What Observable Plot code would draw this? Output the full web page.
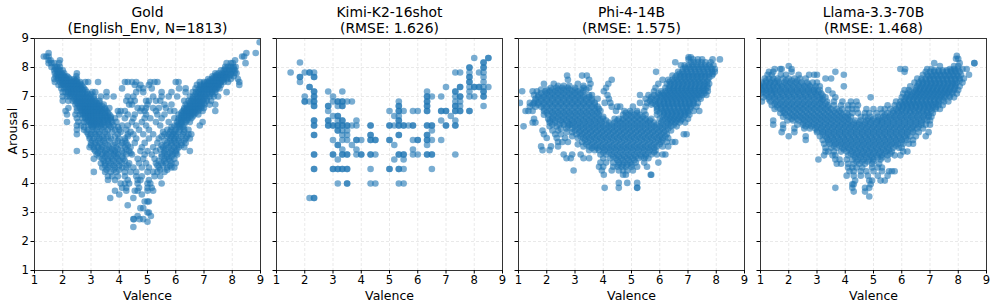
<!DOCTYPE html>
<html><head><meta charset="utf-8">
<script src="https://cdn.jsdelivr.net/npm/d3@7"></script>
<script src="https://cdn.jsdelivr.net/npm/@observablehq/plot@0.6"></script>
<style>html,body{margin:0;background:#fff}#c{position:relative;width:996px;height:308px;overflow:hidden}#c svg{position:absolute;top:0;background:transparent}</style>
</head><body><div id="c"></div>
<script>
const titles=["Gold\n(English_Env, N=1813)","Kimi-K2-16shot\n(RMSE: 1.626)","Phi-4-14B\n(RMSE: 1.575)","Llama-3.3-70B\n(RMSE: 1.468)"];
const ticks=[1,2,3,4,5,6,7,8,9];
const panelLefts=[34.3,276.3,518,760.3];
// rows: [arousal, [valences]]
const goldRows=[[8.87,[8.97]],[8.5,[1.5,8.5,8.83]],[8.38,[1.33,1.42,1.5,8.35,8.42]],[8.25,[1.5,1.57,1.9,8.1]],[8.15,[1.5,1.6,1.7,1.87,7.8,7.95,8.02,8.47]],[8.02,[1.6,1.72,1.8,1.9,7.75,7.85,7.95,8.05,8.12]],[7.9,[1.7,1.8,1.9,2,7.6,7.7,7.8,7.9,8,8.1]],[7.8,[1.72,1.85,1.95,2.05,2.5,7.4,7.52,7.65,7.75,7.85,7.95,8.08,8.15]],[7.7,[1.75,1.85,1.95,2.05,2.15,2.48,7.3,7.42,7.55,7.65,7.75,7.9,8.05]],[7.6,[1.7,1.82,1.93,2.03,2.13,2.25,2.4,2.5,7.15,7.28,7.4,7.5,7.6,7.7,7.82,7.95,8.2]],[7.5,[1.72,1.9,2,2.1,2.2,2.3,2.4,2.5,2.62,2.8,2.9,3.25,4.2,4.3,4.45,4.6,5.1,5.25,5.35,6,6.1,6.85,7,7.1,7.2,7.3,7.4,7.5,7.6,7.7,7.85,8.25]],[7.4,[1.85,1.95,2.05,2.15,2.25,2.35,2.45,2.55,2.65,4.55,4.75,5.05,6.75,6.87,7,7.1,7.2,7.3,7.4,7.5,7.6,8.25]],[7.28,[1.95,2.05,2.15,2.25,2.35,2.45,2.55,2.65,2.75,4.1,4.7,4.85,5.15,6.12,6.35,6.7,6.85,6.95,7.05,7.15,7.25,7.35,7.45,7.55]],[7.15,[2,2.1,2.2,2.3,2.4,2.5,2.6,2.72,2.85,3.05,3.15,3.55,4.6,4.85,5.5,5.85,6.35,6.6,6.72,6.82,6.92,7.02,7.15,7.28,7.4,7.8]],[7,[2,2.15,2.25,2.35,2.45,2.55,2.65,2.75,2.85,2.95,3.1,3.35,3.55,3.8,4.3,4.5,5.2,5.5,5.75,6.05,6.5,6.62,6.75,6.85,6.95,7.05,7.2,7.35,7.5]],[6.85,[2,2.2,2.35,2.45,2.55,2.65,2.75,2.85,2.95,3.05,3.15,3.3,4.25,4.4,4.55,4.95,5.05,5.3,5.45,6.3,6.45,6.55,6.65,6.75,6.85,6.95,7.1,7.25]],[6.72,[2.45,2.55,2.65,2.75,2.85,2.95,3.05,3.15,3.25,3.45,4.35,4.45,5,5.6,5.85,6.35,6.5,6.6,6.72,6.82,6.92,7.02,7.2,7.4]],[6.6,[2.2,2.5,2.6,2.7,2.8,2.9,3,3.1,3.2,3.3,3.5,3.65,4.65,4.8,4.95,5.2,5.4,5.65,6.3,6.4,6.5,6.6,6.7,6.8,6.9,7]],[6.5,[2.1,2.5,2.65,2.75,2.85,2.95,3.05,3.15,3.25,3.35,3.55,3.95,4.05,4.2,4.75,4.9,5.3,5.8,5.95,6.25,6.35,6.45,6.55,6.65,6.8,6.95,7.4]],[6.38,[2.15,2.45,2.6,2.7,2.8,2.9,3,3.1,3.2,3.35,3.5,3.65,4,4.3,4.55,4.95,5.35,5.6,6.1,6.22,6.35,6.45,6.55,6.65,6.8]],[6.25,[2.5,2.7,2.8,2.9,3,3.1,3.2,3.3,3.42,3.55,3.7,3.85,4.2,4.5,4.9,5.1,5.5,5.95,6.1,6.2,6.3,6.42,6.55]],[6.12,[2.15,2.55,2.75,2.85,2.95,3.05,3.15,3.3,3.45,3.6,3.75,3.9,4.45,4.8,5.3,5.75,6.05,6.2,6.35,6.5,6.95]],[6,[2.5,2.65,2.9,3,3.1,3.2,3.35,3.5,3.65,3.8,4.1,4.3,4.6,4.95,5.45,5.95,6.05,6.15,6.3,6.85]],[5.85,[2.5,2.75,2.9,3.05,3.2,3.4,3.6,3.85,4,4.25,4.7,5.05,5.7,5.85,6,6.15,6.3,6.45]],[5.7,[2.5,2.9,3,3.15,3.3,3.55,3.95,4.3,4.5,4.85,5.2,5.6,5.75,5.9,6,6.25,6.45,6.55]],[5.55,[2.95,3.1,3.3,3.45,3.7,4,4.2,4.6,5.05,5.4,5.8,5.95,6.1,6.35,6.5]],[5.4,[3,3.15,3.3,3.5,3.85,4.1,4.25,4.55,4.9,5.35,5.7,5.85,6,6.2,6.35]],[5.25,[2.95,3.1,3.25,3.4,3.65,3.9,4.2,4.4,4.8,5.2,5.55,5.75,5.95,6.1,6.3]],[5.12,[2.5,3.15,3.3,3.5,3.7,3.85,4.1,4.35,4.75,5,5.3,5.6,5.85,6,6.5]],[5,[3.2,3.4,3.55,3.8,3.95,4.25,4.45,4.9,5.15,5.5,5.7,5.9,6.05]],[4.85,[3.1,3.4,3.6,3.75,3.95,4.15,4.65,4.85,5.25,5.6,5.75,5.95]],[4.7,[3.35,3.5,3.7,3.9,4.1,4.35,4.7,4.95,5.3,5.5,5.65,5.85,6]],[4.55,[3.4,3.6,3.85,4.1,4.25,4.5,4.8,5.05,5.4,5.7,5.85,5.95]],[4.4,[3.1,3.5,3.7,3.9,4.2,4.4,4.6,5,5.2,5.35,5.6]],[4.25,[3.6,3.75,3.95,4.2,4.6,4.8,5.25,5.45]],[4.12,[3.6,3.85,4.3,4.65,4.75,5.05]],[4,[4.05,4.2,4.35,4.65,5,5.1,5.5]],[3.85,[4.1,4.25,4.7,5,5.15]],[3.75,[3.85,4.25,4.55,4.65,5,5.2]],[3.62,[4,4.8]],[3.5,[3.68,4.5]],[3.38,[4.9,5,5.05]],[3.25,[4.3]],[3.15,[4.75,4.85]],[3,[5,5.05]],[2.88,[4.65,5.12]],[2.77,[4.5,4.52,4.85,4.72]],[2.68,[5]],[2.5,[4.5]],
[7.95,[1.75,1.85,7.75,7.9,8.05]],[7.75,[1.8,1.9,2,7.45,7.6,7.7,7.8,7.95]],[7.65,[1.85,1.95,2.1,2.2,7.35,7.45,7.6,7.7,7.8]],[7.55,[1.95,2.05,2.15,2.3,2.45,7.2,7.35,7.45,7.55,7.65]],[7.45,[2,2.1,2.2,2.3,2.4,2.5,2.6,7,7.15,7.25,7.35,7.45,7.55]],[7.34,[2.1,2.2,2.3,2.4,2.5,2.6,2.7,6.9,7,7.1,7.2,7.3,7.4,7.5]],[7.22,[2.2,2.3,2.4,2.5,2.6,2.7,2.8,6.8,6.9,7,7.1,7.2,7.3,7.4]],[7.08,[2.2,2.3,2.4,2.5,2.6,2.7,2.8,2.9,3,6.7,6.8,6.9,7,7.1,7.2,7.3]],[6.92,[2.4,2.5,2.6,2.7,2.8,2.9,3,3.1,6.6,6.7,6.8,6.9,7,7.1]],[6.78,[2.5,2.6,2.7,2.8,2.9,3,3.1,3.2,3.3,6.5,6.6,6.7,6.8,6.9,7]],[6.66,[2.6,2.7,2.8,2.9,3,3.1,3.2,3.3,3.4,6.4,6.5,6.6,6.7,6.8,6.9]],[6.55,[2.7,2.8,2.9,3,3.1,3.2,3.3,3.4,3.5,6.3,6.4,6.5,6.6,6.7,6.8]],[6.44,[2.7,2.8,2.9,3,3.1,3.2,3.3,3.4,3.5,3.6,6.2,6.3,6.4,6.5,6.6,6.7]],[6.31,[2.8,2.9,3,3.1,3.2,3.3,3.4,3.5,3.6,3.7,6.2,6.3,6.4,6.5,6.6]],[6.18,[2.9,3,3.1,3.2,3.3,3.4,3.5,3.6,3.7,6.1,6.2,6.3,6.4]],[6.05,[3,3.1,3.2,3.3,3.4,3.6,6.1,6.2]],
[5.95,[2.75,3.05,3.25,3.45,3.7,3.95,5.85,6.1,6.25]],[5.78,[2.85,3.1,3.3,3.5,3.75,4.05,4.4,5.55,5.8,5.95,6.1,6.3]],[5.62,[2.95,3.2,3.4,3.6,3.85,4.3,5.5,5.7,5.85,6,6.2,6.4]],[5.47,[3.05,3.25,3.45,3.65,3.95,4.2,5.6,5.8,5.95,6.1,6.3]],[5.32,[3,3.2,3.4,3.6,3.8,4.05,4.3,5.5,5.65,5.85,6.05,6.2]],[5.18,[3.1,3.35,3.55,3.75,3.95,4.25,5.45,5.65,5.85,6.05]],[5.05,[3.25,3.5,3.7,3.9,4.15,4.4,5.6,5.8,6]],[4.92,[3.3,3.5,3.7,3.9,4.1,5.5,5.7,5.85]],[4.78,[3.45,3.6,3.8,4,4.2,5.4,5.6,5.8]],[4.62,[3.5,3.65,3.8,4,4.3,5.35,5.55,5.8]],[4.47,[3.55,3.8,4,5.45,5.7]]];
const kimiRows=[[8.33,[8,8.5,8.5]],[8.17,[1.83,8.33,8.33]],[8,[7.83,7.83,8.33,8.33]],[7.83,[1.5,2,2.17,2.17,2.33,7.33,7.5,7.83,8.17,8.33]],[7.67,[1.83,1.83,2.33,2.33,7.83,7.83,8.33]],[7.5,[1.83,7.83,7.83,8.33]],[7.33,[2.17,2.17,7,7.5,7.5,7.83,8,8,8.17,8.17,8.33,8.5]],[7.17,[2.33,2.33,2.83,3.33,6.33,7.33,7.33,7.83,8.33,8.33]],[7,[2,2.33,2.33,3,6.33,6.33,6.5,6.83,7.33,7.5,7.5,7.83,8,8.33,8.33]],[6.83,[2,2,2.17,2.33,2.33,3,3.17,3.17,3.33,3.33,3.5,3.67,5.33,6.33,6.33,7.33,7.5]],[6.67,[2.33,2.33,2.83,2.83,3.17,3.33,3.33,5.33,5.33,6.33,6.33,7.33,7.33,7.5,8.33]],[6.5,[2.83,5,5.33,5.33,5.5,5.83,6,6.33,6.33,6.83,6.83,7,7,7.33,7.33,7.5,7.5,7.83,7.83]],[6.33,[3,3.17,3.17,5.17,5.33,7.17]],[6.17,[2.33,2.33,2.83,2.83,3.17,3.33,3.33,3.83,5.33,5.33,6.83,7.33]],[6,[2.33,2.33,2.83,2.83,3,3,3.17,3.17,3.33,3.33,3.5,3.5,3.67,3.83,4.33,4.33,5,5,5.17,5.33,5.33,5.5,5.5,5.67,5.83,5.83,6.33,6.33,6.5,6.5,7,7,7.33,7.33]],[5.83,[3.17,3.17,3.33,3.5,6.5]],[5.67,[2.33,2.33,3.33,3.5,4.33,4.33,5.33,5.33,6.33,6.33]],[5.5,[3,3.33,3.5,3.83,3.83,4,4.33,4.33,4.5,4.5,5,5,5.83,6,6,6.33,6.33,6.5,6.83]],[5.33,[3.17,3.17,3.67,5.17,6.33]],[5.17,[3.33,3.83,5.83]],[5,[2.33,2.33,3,3,3.33,3.33,3.5,3.5,3.83,4,4,4.33,4.33,4.5,5.33,5.33,5.5,5.5,5.83,6,6.33,6.33,6.5,6.5,7.33]],[4.83,[3.17,5.17,5.5]],[4.5,[2.33,2.33,3,3,3.17,3.17,3.33,3.33,3.5,3.5,4.33,5,5,5.33,5.33,5.5,6.5]],[4,[3.17,3.5,3.5,4.33,4.5,5.33,5.5]],[3.5,[2.17,2.33,2.33]]];
const phiRows=[[8.35,[7.02,7.1]],[8.28,[7.02,7.18,7.35,7.5,7.87,8.13]],[8.18,[6.55,7.1,7.22,7.35,7.48,7.62,7.8]],[8.08,[6.75,6.88,7.02,7.15,7.3,7.45,7.6,7.75,7.9]],[7.95,[6.82,6.95,7.1,7.25,7.4,7.55,7.7,7.85,7.95]],[7.85,[5.87,6.65,6.8,6.95,7.1,7.25,7.4,7.55,7.7,7.85,7.95]],[7.72,[2.72,3.25,3.42,6.45,6.6,6.75,6.9,7.05,7.2,7.35,7.5,7.65,7.85]],[7.58,[2.75,3.5,4.3,6.1,6.3,6.45,6.6,6.75,6.9,7.05,7.2,7.35,7.5,7.7]],[7.44,[1.9,2.25,3.1,3.55,4.18,5.95,6.25,6.4,6.55,6.7,6.85,7,7.15,7.3,7.45,7.6,7.75]],[7.3,[2.15,2.35,2.55,2.75,3,3.3,3.5,4.1,5.85,6.2,6.35,6.5,6.65,6.8,6.95,7.1,7.25,7.4,7.55,7.7]],[7.18,[1.13,1.5,1.65,1.95,2.1,2.3,2.5,2.7,2.9,3.1,3.3,4.02,5.8,6.05,6.2,6.35,6.5,6.65,6.8,6.95,7.1,7.25,7.4,7.55,7.7]],[7.05,[1.55,1.7,1.9,2.1,2.3,2.5,2.7,2.9,3.1,3.3,3.5,3.6,4.15,5.3,5.6,5.8,6,6.15,6.3,6.45,6.6,6.75,6.9,7.05,7.2,7.35,7.5,7.65]],[6.92,[1.6,1.8,2,2.2,2.4,2.6,2.8,3,3.2,3.4,3.6,3.8,4.2,5.5,5.7,5.9,6.1,6.25,6.4,6.55,6.7,6.85,7,7.15,7.3,7.45]],[6.78,[1.05,1.4,1.55,1.7,1.9,2.1,2.3,2.5,2.7,2.9,3.1,3.3,3.5,3.7,4.05,4.25,5.3,5.55,5.75,5.95,6.15,6.3,6.45,6.6,6.75,6.9,7.05,7.2,7.35]],[6.65,[1.4,1.6,1.8,2,2.2,2.4,2.6,2.8,3,3.2,3.4,3.6,3.8,4.3,4.5,4.6,5.05,5.5,5.9,6.05,6.2,6.35,6.5,6.65,6.8,6.95,7.1,7.3]],[6.5,[1.25,1.35,1.5,1.9,2.1,2.3,2.5,2.7,2.9,3.1,3.3,3.5,3.7,3.9,4.45,4.75,4.95,5.2,5.45,5.9,6.1,6.25,6.4,6.55,6.7,6.85,7,7.2,7.4]],[6.37,[1.9,2.05,2.25,2.45,2.65,2.85,3.05,3.25,3.45,3.65,3.85,4.7,4.9,5.1,5.3,5.5,5.9,6.15,6.3,6.45,6.6,6.75,6.9,7.05]],[6.23,[1.55,2.05,2.2,2.4,2.6,2.8,3,3.2,3.4,3.6,3.8,4,4.4,4.55,4.7,4.9,5.1,5.3,5.5,5.7,6,6.2,6.35,6.5,6.65,6.8,7]],[6.1,[1.5,1.6,2.1,2.3,2.55,2.75,2.95,3.15,3.35,3.55,3.75,3.95,4.2,4.4,4.6,4.8,5,5.2,5.4,5.6,5.8,6.05,6.25,6.4,6.55,6.7,6.9]],[5.97,[1.18,2.1,2.35,2.75,3,3.2,3.4,3.6,3.8,4,4.2,4.4,4.6,4.8,5,5.2,5.4,5.6,5.8,6,6.2,6.4,6.6]],[5.83,[1.85,2.2,2.4,3,3.2,3.4,3.6,3.8,4,4.2,4.4,4.6,4.8,5,5.2,5.4,5.6,5.8,6,6.2,6.4]],[5.7,[1.9,2.3,2.5,3.05,3.25,3.45,3.65,3.85,4.05,4.25,4.45,4.65,4.85,5.05,5.25,5.45,5.65,5.85,6.05,6.25,6.85,6.95]],[5.57,[2,2.35,2.65,3.1,3.3,3.5,3.7,3.9,4.1,4.3,4.5,4.7,4.9,5.1,5.3,5.5,5.7,5.9,6.1,6.3]],[5.43,[2.4,2.55,2.75,3.25,3.45,3.65,3.85,4.05,4.25,4.45,4.65,4.85,5.05,5.25,5.45,5.65,5.85,6.05,6.25,6.45,6.55]],[5.28,[1.8,2.15,2.4,3.3,3.5,3.7,3.9,4.1,4.3,4.5,4.7,4.9,5.1,5.3,5.5,5.7,5.9,6.1,6.3]],[5.15,[1.85,2.1,3.5,3.7,3.85,4.05,4.25,4.45,4.65,4.85,5.05,5.25,5.45,5.65,5.85]],[5,[2.6,2.9,3.2,3.9,4.1,4.3,4.5,4.7,4.9,5.1,5.3,5.5,5.7,5.9,6.1,6.2]],[4.87,[2.7,2.85,3.3,3.5,4,4.25,4.45,4.65,4.85,5.05,5.25,5.45,5.6]],[4.72,[3.9,4.1,4.35,4.55,4.75,4.95,5.15,5.45,5.95]],[4.58,[3.85,4,4.35,4.5,4.65,4.8,5,5.2,5.55]],[4.45,[2.95,3.95,4.3,4.55,4.7,4.85,5.05]],[4.3,[4.02,4.7,4.8,5.7,5.68]],[4.02,[4.55,4.85,5.2]],[3.85,[4.05,4.55,5.2,5.2]],
[8,[6.9,7.05,7.2,7.35,7.5,7.65,7.8]],[7.78,[6.7,6.85,7,7.15,7.3,7.45,7.6,7.75,7.88]],[7.65,[6.55,6.7,6.85,7,7.15,7.3,7.45,7.6,7.75]],[7.51,[6.35,6.5,6.65,6.8,6.95,7.1,7.25,7.4,7.55,7.68]],[7.37,[2.4,2.6,2.8,3.3,6.35,6.5,6.65,6.8,6.95,7.1,7.25,7.4,7.55,7.68]],[7.24,[1.8,2,2.2,2.4,2.6,2.8,3,3.2,3.4,6.3,6.45,6.6,6.75,6.9,7.05,7.2,7.35,7.5,7.62]],[7.11,[1.8,2,2.2,2.4,2.6,2.8,3,3.2,5.95,6.1,6.25,6.4,6.55,6.7,6.85,7,7.15,7.3,7.45,7.58]],[6.98,[1.7,1.9,2.1,2.3,2.5,2.7,2.9,3.1,3.3,3.5,5.7,5.9,6.05,6.2,6.35,6.5,6.65,6.8,6.95,7.1,7.25,7.4]],[6.85,[1.6,1.8,2,2.2,2.4,2.6,2.8,3,3.2,3.4,3.6,5.65,5.85,6,6.15,6.3,6.45,6.6,6.75,6.9,7.05,7.2]],[6.72,[1.5,1.7,1.9,2.1,2.3,2.5,2.7,2.9,3.1,3.3,3.5,3.7,5.7,5.85,6,6.15,6.3,6.45,6.6,6.75,6.9,7.05,7.18]],[6.58,[1.9,2.1,2.3,2.5,2.7,2.9,3.1,3.3,3.5,3.7,3.85,5.9,6.05,6.2,6.35,6.5,6.65,6.8,6.95,7.08]],[6.44,[2,2.2,2.4,2.6,2.8,3,3.2,3.4,3.6,3.8,4.8,5,5.2,6,6.15,6.3,6.45,6.6,6.75,6.9,7]],[6.3,[2.2,2.4,2.6,2.8,3,3.2,3.4,3.6,3.8,4,4.8,5,5.2,5.4,6.1,6.25,6.4,6.55,6.7,6.85]],[6.17,[2.1,2.3,2.5,2.7,2.9,3.1,3.3,3.5,3.7,3.9,4.1,4.5,4.7,4.9,5.1,5.3,5.5,5.65,6.1,6.3,6.45,6.6,6.75]],[6.03,[2.2,2.45,2.6,2.8,2.9,3.1,3.3,3.5,3.7,3.9,4.1,4.3,4.5,4.7,4.9,5.1,5.3,5.5,5.7,5.9,6.1,6.3,6.5]],[5.9,[2.5,2.7,2.9,3.1,3.3,3.5,3.7,3.9,4.1,4.3,4.5,4.7,4.9,5.1,5.3,5.5,5.7,5.9,6.1,6.3]],[5.77,[2.7,2.9,3.15,3.35,3.55,3.75,3.95,4.15,4.35,4.55,4.75,4.95,5.15,5.35,5.55,5.75,5.95,6.15]],[5.63,[2.9,3.2,3.4,3.6,3.8,4,4.2,4.4,4.6,4.8,5,5.2,5.4,5.6,5.8,6,6.2]],[5.5,[3.35,3.55,3.75,3.95,4.15,4.35,4.55,4.75,4.95,5.15,5.35,5.55,5.75,5.95,6.1]],[5.35,[3.1,3.4,3.6,3.8,4,4.2,4.4,4.6,4.8,5,5.2,5.4,5.6,5.8,6]],[5.22,[3.6,3.8,4,4.2,4.4,4.6,4.8,5,5.2,5.4,5.6,5.8]],[5.08,[4,4.2,4.4,4.6,4.8,5,5.2,5.4,5.6,5.8]],[4.93,[4.35,4.55,4.75,4.95,5.15,5.35,5.5]],[4.8,[4.5,4.7,4.9,5.1]],[4.65,[4.55,4.7,4.85,5]]];
const llamaRows=[[8.4,[7.95]],[8.3,[7.92,8]],[8.15,[7.15,8.05,8.57,8.57]],[8.05,[2,7.35,7.85,8]],[7.95,[1.5,1.7,1.75,2.1,5.95,6.12,6.9,7.05,7.7,7.85,8,8.15,8.3]],[7.85,[1.3,1.45,2.1,3.65,6.1,6.85,7,7.15,7.3,7.45,7.6,7.75,7.9,8.05]],[7.75,[1.25,1.4,1.72,1.9,2.35,2.72,2.9,3,3.95,6.75,6.9,7.05,7.2,7.35,7.5,7.65,7.8,7.95,8.1,8.38]],[7.62,[1.15,1.3,1.45,1.6,1.8,2,2.2,2.4,2.6,3.3,3.5,6.55,6.7,6.85,7,7.15,7.3,7.45,7.6,7.75,7.9,8.05,8.2]],[7.48,[1.05,1.2,1.35,1.5,1.65,1.85,2.05,2.25,2.45,2.65,2.85,3,6.45,6.6,6.75,6.9,7.05,7.2,7.35,7.5,7.65,7.8,7.95,8.15]],[7.35,[1,1.15,1.3,1.45,1.6,1.75,1.95,2.15,2.35,2.55,2.75,2.95,3.1,3.95,6.3,6.55,6.7,6.85,7,7.15,7.3,7.45,7.6,7.75,7.9,8.05]],[7.22,[1.05,1.2,1.35,1.5,1.7,1.9,2.1,2.3,2.5,2.7,2.9,3.1,3.4,6.1,6.25,6.5,6.65,6.8,6.95,7.1,7.25,7.4,7.55,7.7,7.85,8]],[7.1,[1,1.2,1.4,1.55,1.75,1.95,2.15,2.35,2.55,2.75,2.95,3.15,3.55,6.05,6.2,6.4,6.55,6.7,6.85,7,7.15,7.3,7.45,7.6,7.8,7.95]],[6.97,[1.1,1.3,1.5,1.7,1.9,2.1,2.3,2.5,2.7,2.9,3.1,3.3,3.65,4.9,6,6.15,6.3,6.45,6.6,6.75,6.9,7.05,7.2,7.35,7.5,7.7,7.85]],[6.83,[1.05,1.35,1.55,1.75,1.95,2.15,2.35,2.55,2.75,2.95,3.15,3.35,3.6,3.9,4.2,4.4,5.8,5.95,6.1,6.25,6.4,6.55,6.7,6.85,7,7.15,7.3,7.5,7.65]],[6.7,[1.4,1.6,1.8,2,2.2,2.4,2.6,2.8,3,3.2,3.4,3.6,3.85,4.1,4.25,4.45,5.5,5.75,5.9,6.05,6.2,6.35,6.5,6.65,6.8,6.95,7.1,7.3,7.45]],[6.57,[1.5,1.7,1.9,2.1,2.3,2.5,2.7,2.9,3.1,3.3,3.5,3.7,3.9,4.1,4.25,4.4,4.75,5,5.25,5.4,5.6,5.8,6,6.2,6.4,6.6,6.8,7,7.2,7.35]],[6.43,[1.7,1.85,2.05,2.25,2.45,2.65,2.85,3.05,3.25,3.45,3.65,3.85,4.05,4.25,4.45,4.7,4.85,5.1,5.3,5.5,5.7,5.9,6.1,6.3,6.5,6.7,6.9,7.1]],[6.3,[1.8,2,2.2,2.4,2.6,2.8,3,3.2,3.4,3.6,3.8,4,4.2,4.55,4.7,4.9,5.15,5.35,5.55,5.75,5.95,6.15,6.35,6.55,6.75,6.95,7.05]],[6.17,[1.45,1.95,2.15,2.35,2.55,2.75,2.95,3.15,3.35,3.55,3.75,3.95,4.15,4.35,4.55,4.75,4.95,5.15,5.3,5.5,5.7,5.9,6.1,6.3,6.5,6.7,6.9,7]],[6.03,[1.45,1.8,2.3,2.5,2.7,2.9,3.1,3.3,3.5,3.7,3.9,4.1,4.3,4.5,4.7,4.9,5.1,5.3,5.5,5.7,5.9,6.1,6.3,6.5,6.7,6.85,7]],[5.9,[1.8,2.2,2.55,2.75,2.95,3.15,3.35,3.55,3.75,3.95,4.15,4.35,4.55,4.75,4.95,5.15,5.35,5.55,5.75,5.95,6.15,6.35,6.55,6.75]],[5.77,[1.75,2.2,3,3.2,3.4,3.6,3.8,4,4.2,4.4,4.6,4.8,5,5.2,5.4,5.6,5.8,6,6.2,6.4,6.6,6.95]],[5.63,[2,2.6,3.1,3.3,3.5,3.7,3.9,4.1,4.3,4.5,4.7,4.9,5.1,5.3,5.5,5.7,5.9,6.1,6.3,6.5,6.85]],[5.5,[2.6,3.2,3.4,3.6,3.8,4,4.2,4.4,4.6,4.8,5,5.2,5.4,5.6,5.8,6,6.2,6.4]],[5.37,[3.25,3.45,3.65,3.85,4.05,4.25,4.45,4.65,4.85,5.05,5.25,5.45,5.65,5.85,6.05,6.25,6.4]],[5.23,[3.3,3.5,3.7,3.9,4.1,4.3,4.5,4.7,4.9,5.1,5.3,5.5,5.7,5.9,6]],[5.1,[3.3,3.4,3.6,3.85,4.05,4.25,4.45,4.65,4.85,5.05,5.25,5.45,5.65,6.05,6.2]],[4.97,[3.25,3.55,3.65,4.1,4.3,4.5,4.7,4.9,5.1,5.3,5.5,5.75,5.95]],[4.83,[3.05,3.65,3.8,4.05,4.25,4.45,4.65,4.85,5,5.25,5.5]],[4.68,[3.7,3.85,4.1,4.3,4.5,4.7,4.95,5.2]],[4.55,[4.1,4.25,4.4,4.6,4.95,5.15,5.3]],[4.42,[4.15,4.3,4.55,4.75,5,5.3,5.55,5.65,5.75]],[4.27,[4.05,4.3,4.55,4.8,5.15,5.5]],[4.1,[4.35,4.85,4.95,5.25,5.4]],[3.97,[4.25,4.3,4.9]],[3.85,[3.65,4.25,4.7,4.85]],[3.72,[4.3,4.7]],[3.55,[4.85]],
[7.9,[7.15,7.3,7.45,7.6,7.75,7.9]],[7.7,[6.95,7.1,7.25,7.4,7.55,7.7,7.85,8]],[7.55,[1.2,1.4,1.6,1.9,2.1,2.3,6.7,6.85,7,7.15,7.3,7.45,7.6,7.75,7.9,8.05]],[7.42,[1.1,1.3,1.5,1.7,1.9,2.1,2.3,2.5,2.7,6.6,6.75,6.9,7.05,7.2,7.35,7.5,7.65,7.8,7.9]],[7.28,[1.1,1.3,1.5,1.7,1.9,2.1,2.3,2.5,2.7,2.9,6.5,6.65,6.8,6.95,7.1,7.25,7.4,7.55,7.7,7.88]],[7.16,[1.1,1.3,1.5,1.7,1.9,2.1,2.3,2.5,2.7,2.9,3.05,6.3,6.45,6.6,6.75,6.9,7.05,7.2,7.35,7.5,7.65,7.78]],[7.03,[1.2,1.4,1.6,1.8,2,2.2,2.4,2.6,2.8,3,3.2,6.2,6.35,6.5,6.65,6.8,6.95,7.1,7.25,7.4,7.55,7.68]],[6.9,[1.3,1.5,1.7,1.9,2.1,2.3,2.5,2.7,2.9,3.1,3.2,6.1,6.25,6.4,6.55,6.7,6.85,7,7.15,7.3,7.45]],[6.76,[1.5,1.7,1.9,2.1,2.3,2.5,2.7,2.9,3.1,3.3,6,6.15,6.3,6.45,6.6,6.75,6.9,7.05,7.2,7.3]],[6.63,[1.6,1.8,2,2.2,2.4,2.6,2.8,3,3.2,3.4,5.9,6.05,6.2,6.35,6.5,6.65,6.8,6.95,7.1,7.2]],[6.5,[1.8,2,2.2,2.4,2.6,2.8,3,3.2,3.4,3.6,3.8,5.7,5.85,6,6.15,6.3,6.45,6.6,6.75,6.9,7.05]],[6.36,[1.9,2.1,2.3,2.5,2.7,2.9,3.1,3.3,3.5,3.7,3.9,4.1,5.4,5.6,5.8,6,6.2,6.4,6.6,6.8,6.95]],[6.23,[2.1,2.3,2.5,2.7,2.9,3.1,3.3,3.5,3.7,3.9,4.1,4.8,5,5.2,5.4,5.6,5.8,6,6.2,6.4,6.6,6.8]],[6.1,[2.5,2.7,2.9,3.1,3.3,3.5,3.7,3.9,4.1,4.3,4.5,4.7,4.9,5.1,5.3,5.5,5.7,5.9,6.1,6.3,6.5,6.7]],[5.97,[2.6,2.8,3,3.2,3.4,3.6,3.8,4,4.2,4.4,4.6,4.8,5,5.2,5.4,5.6,5.8,6,6.2,6.4,6.6]],[5.83,[3,3.2,3.4,3.6,3.8,4,4.2,4.4,4.6,4.8,5,5.2,5.4,5.6,5.8,6,6.2,6.4]],[5.7,[3.2,3.4,3.6,3.8,4,4.2,4.4,4.6,4.8,5,5.2,5.4,5.6,5.8,6,6.2]],[5.57,[3.35,3.55,3.75,3.95,4.15,4.35,4.55,4.75,4.95,5.15,5.35,5.55,5.75,5.95,6.15]],[5.43,[3.4,3.6,3.8,4,4.2,4.4,4.6,4.8,5,5.2,5.4,5.6,5.8,6]],[5.3,[3.6,3.8,4,4.2,4.4,4.6,4.8,5,5.2,5.4,5.6,5.8]],[5.17,[3.95,4.15,4.35,4.55,4.75,4.95,5.15,5.35,5.55]],[5.03,[4.2,4.4,4.6,4.8,5,5.2,5.4,5.6]],[4.9,[4.35,4.55,4.75,4.95,5.15,5.3]],[4.76,[4.4,4.6,4.8,5]]];
const series=[goldRows,kimiRows,phiRows,llamaRows];
const root=document.getElementById("c");
const font="DejaVu Sans";
series.forEach((rows,i)=>{
  const pts=rows.flatMap(([y,xs])=>xs.map(x=>({x,y})));
  const grid={stroke:"#b0b0b0",strokeOpacity:0.35,strokeDasharray:"3 2",strokeWidth:0.8};
  const marks=[
      Plot.gridX(ticks,grid),Plot.gridY(ticks,grid),
      Plot.dot(pts,{x:"x",y:"y",r:3.3,fill:"#1f77b4",fillOpacity:0.6,stroke:"none",clip:true}),
      Plot.frame({stroke:"#333",strokeWidth:1}),
      Plot.axisX({ticks,tickSize:3.5,tickPadding:2,fontSize:11.6,label:null,tickFormat:d=>d,fill:"#000"}),
      Plot.axisY({ticks,tickSize:3.5,tickPadding:2,fontSize:11.6,label:null,tickFormat:i===0?(d=>d):()=>"",fill:"#000"}),
      Plot.text(["Valence"],{text:d=>d,frameAnchor:"bottom",lineAnchor:"middle",dy:25,fontSize:12.5,fill:"#000"}),
      Plot.text([titles[i]],{text:d=>d,frameAnchor:"top",lineAnchor:"bottom",dy:-6,fontSize:13.9,fill:"#000",lineHeight:1.15})
  ];
  if(i===0)marks.push(Plot.text(["Arousal"],{text:d=>d,frameAnchor:"left",rotate:-90,dx:-22,fontSize:12.5,fill:"#000"}));
  const svg=Plot.plot({
    width:276,height:308,marginLeft:40,marginRight:10,marginTop:38,marginBottom:38,
    style:{fontFamily:font,background:"transparent",maxWidth:"none"},
    x:{domain:[1,9]},y:{domain:[1,9]},marks
  });
  svg.style.left=(panelLefts[i]-40)+"px";
  root.appendChild(svg);
});
</script></body></html>
